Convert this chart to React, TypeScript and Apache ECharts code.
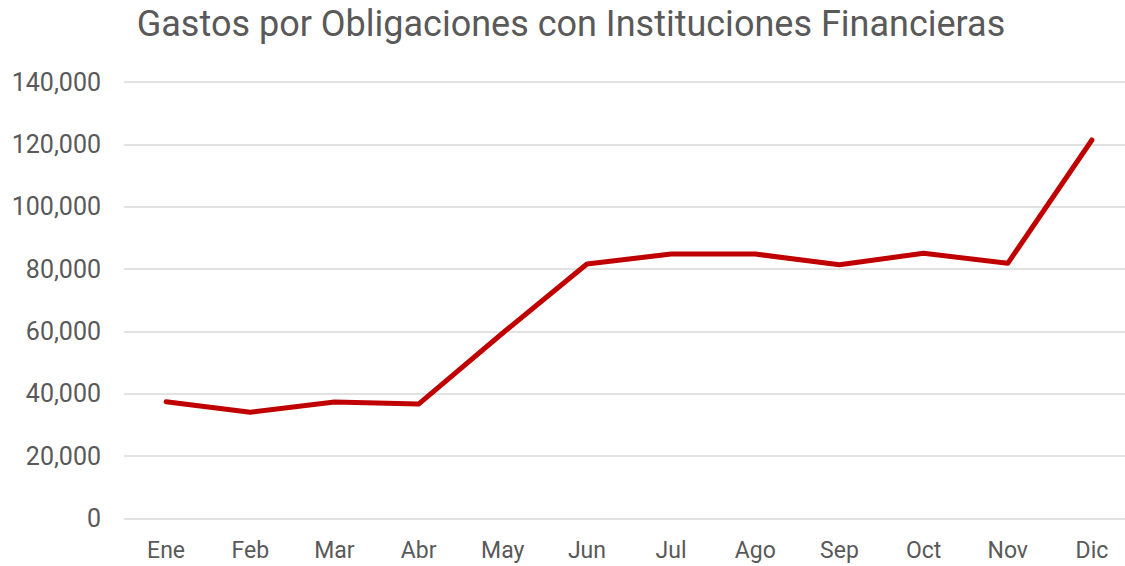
import React, { useEffect, useRef } from "react";
import * as echarts from "echarts";

const categories = ["Ene", "Feb", "Mar", "Abr", "May", "Jun", "Jul", "Ago", "Sep", "Oct", "Nov", "Dic"];
const gastos = [37460, 34060, 37360, 36700, 59500, 81630, 84830, 84830, 81400, 85060, 81850, 121400];
const yTicks = { min: 0, max: 140000, interval: 20000 };
const titleText = "Gastos por Obligaciones con Instituciones Financieras";

export default function App() {
  const ref = useRef<HTMLDivElement>(null);
  useEffect(() => {
    if (!ref.current) return;
    const chart = echarts.init(ref.current, null, { renderer: "svg" });
    const font = "Roboto, 'Open Sans', sans-serif";
    chart.setOption({
      animation: false,
      backgroundColor: "#ffffff",
      title: {
        text: titleText,
        left: 566,
        textAlign: "center",
        top: 1,
        textStyle: { fontFamily: font, fontSize: 36, fontWeight: "normal", color: "#595959" },
      },
      grid: { left: 124, right: 0, top: 82, bottom: 47.5, containLabel: false },
      xAxis: {
        type: "category",
        data: categories,
        boundaryGap: true,
        axisLine: { show: false },
        axisTick: { show: false },
        axisLabel: { fontFamily: font, fontSize: 23, color: "#595959", margin: 20 },
      },
      yAxis: {
        type: "value",
        min: yTicks.min,
        max: yTicks.max,
        interval: yTicks.interval,
        axisLine: { show: false },
        axisTick: { show: false },
        splitLine: { lineStyle: { color: "#d9d9d9", width: 1.5 } },
        axisLabel: {
          fontFamily: font,
          fontSize: 25,
          color: "#595959",
          margin: 23,
          formatter: (v: number) => v.toLocaleString("en-US"),
        },
      },
      series: [
        {
          type: "line",
          data: gastos,
          symbol: "none",
          lineStyle: { color: "#C00000", width: 5, cap: "round", join: "round" },
          itemStyle: { color: "#C00000" },
        },
      ],
    });
    return () => chart.dispose();
  }, []);
  return (
    <div style={{ position: "absolute", left: 0, top: 0, width: 1125, height: 566, overflow: "hidden" }}>
      <div ref={ref} style={{ width: 1134, height: 566 }} />
    </div>
  );
}
